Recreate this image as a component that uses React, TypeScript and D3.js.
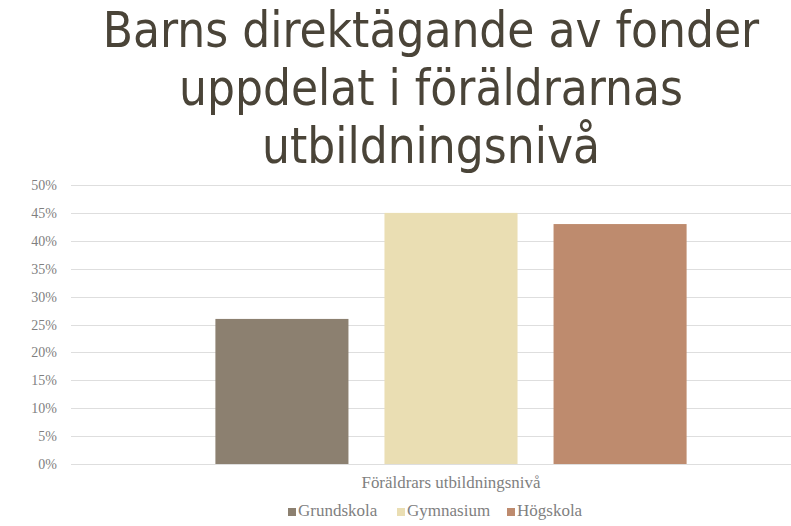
import * as React from "react";
import * as d3 from "d3";

const titleLines = ["Barns direktägande av fonder", "uppdelat i föräldrarnas", "utbildningsnivå"];
const category = "Föräldrars utbildningsnivå";
const seriesNames = ["Grundskola", "Gymnasium", "Högskola"];
const seriesValues = [0.26, 0.45, 0.43];
const seriesColors = ["#8c8070", "#eadeb3", "#be8b6e"];
const yTicks = [0, 0.05, 0.1, 0.15, 0.2, 0.25, 0.3, 0.35, 0.4, 0.45, 0.5];

const W = 791;
const H = 526;
const margin = { top: 185, right: -40, bottom: 62, left: 71 };

function drawChart(svgRef: React.RefObject<SVGSVGElement>) {
  const svg = d3.select(svgRef.current);
  svg.selectAll("*").remove();

  const y = d3
    .scaleLinear()
    .domain([0, 0.5])
    .range([H - margin.bottom, margin.top]);

  const x0 = d3
    .scaleBand()
    .domain([category])
    .range([margin.left, W - margin.right])
    .paddingInner(0.38)
    .paddingOuter(0.19);

  const x1 = d3
    .scaleBand()
    .domain(seriesNames)
    .range([0, x0.bandwidth()])
    .paddingInner(0.213);

  // title
  svg
    .append("g")
    .selectAll("text")
    .data(titleLines)
    .enter()
    .append("text")
    .attr("x", 431)
    .attr("y", (_, i) => 47 + i * 58)
    .attr("text-anchor", "middle")
    .style("font-family", "'DejaVu Sans Condensed', 'DejaVu Sans', sans-serif")
    .style("font-size", "49px")
    .style("fill", "#4a4438")
    .text((d) => d);

  // grid
  svg
    .append("g")
    .selectAll("line")
    .data(yTicks)
    .enter()
    .append("line")
    .attr("x1", margin.left)
    .attr("x2", W)
    .attr("y1", (d) => Math.round(y(d)) + 0.5)
    .attr("y2", (d) => Math.round(y(d)) + 0.5)
    .style("stroke", "#dedede")
    .style("stroke-width", 1);

  // y labels
  svg
    .append("g")
    .selectAll("text")
    .data(yTicks)
    .enter()
    .append("text")
    .attr("x", 57)
    .attr("y", (d) => y(d) + 5)
    .attr("text-anchor", "end")
    .style("font-family", "'Liberation Serif', serif")
    .style("font-size", "14px")
    .style("fill", "#7f7f7f")
    .text((d) => d3.format(".0%")(d));

  // bars
  svg
    .append("g")
    .attr("transform", `translate(${x0(category)},0)`)
    .selectAll("rect")
    .data(seriesValues)
    .enter()
    .append("rect")
    .attr("x", (_, i) => x1(seriesNames[i]) as number)
    .attr("width", x1.bandwidth())
    .attr("y", (d) => y(d))
    .attr("height", (d) => y(0) - y(d))
    .style("fill", (_, i) => seriesColors[i]);

  // category label
  svg
    .append("text")
    .attr("x", (x0(category) as number) + x0.bandwidth() / 2)
    .attr("y", 488)
    .attr("text-anchor", "middle")
    .style("font-family", "'Liberation Serif', serif")
    .style("font-size", "17px")
    .style("fill", "#7f7f7f")
    .attr("textLength", 179)
    .attr("lengthAdjust", "spacingAndGlyphs")
    .text(category);

  // legend
  const legendX = [288, 397, 507];
  const legend = svg
    .append("g")
    .selectAll("g")
    .data(seriesNames)
    .enter()
    .append("g")
    .attr("transform", (_, i) => `translate(${legendX[i]},508)`);

  legend
    .append("rect")
    .attr("width", 8)
    .attr("height", 8)
    .style("fill", (_, i) => seriesColors[i]);

  legend
    .append("text")
    .attr("x", 10)
    .attr("y", 8)
    .style("font-family", "'Liberation Serif', serif")
    .style("font-size", "17px")
    .style("fill", "#7f7f7f")
    .text((d) => d);
}

const App: React.FunctionComponent = () => {
  const svg = React.useRef<SVGSVGElement>(null);
  React.useEffect(() => {
    document.body.style.margin = "0";
    drawChart(svg);
  }, [svg]);

  return (
    <div id="chart">
      <svg ref={svg} width={W} height={H} style={{ display: "block", background: "#fff" }} />
    </div>
  );
};

export default App;
